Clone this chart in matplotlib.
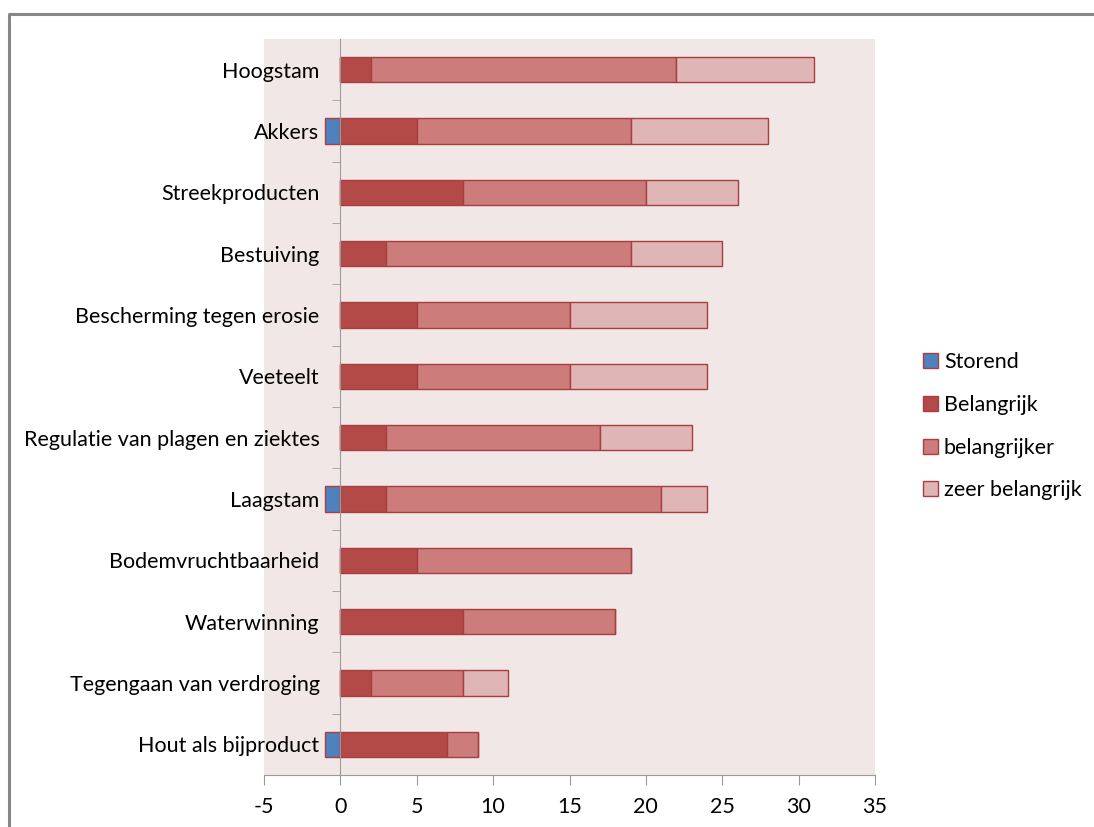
import matplotlib
matplotlib.use('Agg')
import matplotlib.pyplot as plt
import matplotlib.lines as mlines
import numpy as np

plt.rcParams['font.family'] = ['Lato', 'DejaVu Sans']

# categories listed top to bottom as in the chart
categories = ['Hoogstam', 'Akkers', 'Streekproducten', 'Bestuiving',
              'Bescherming tegen erosie', 'Veeteelt',
              'Regulatie van plagen en ziektes', 'Laagstam',
              'Bodemvruchtbaarheid', 'Waterwinning',
              'Tegengaan van verdroging', 'Hout als bijproduct']
storend       = [0, -1, 0, 0, 0, 0, 0, -1, 0, 0, 0, -1]
belangrijk    = [2, 5, 8, 3, 5, 5, 3, 3, 5, 8, 2, 7]
belangrijker  = [20, 14, 12, 16, 10, 10, 14, 18, 14, 10, 6, 2]
zeer          = [9, 9, 6, 6, 9, 9, 6, 3, 0, 0, 3, 0]

series_names = ['Storend', 'Belangrijk', 'belangrijker', 'zeer belangrijk']
COLORS = ['#4F81BD', '#B34A48', '#CB7C7B', '#DFB5B5']
EDGE = '#A83E3E'
BG = '#F2E7E7'
FS = 15.5

fig = plt.figure(figsize=(10.94, 8.27), dpi=100)
ax = fig.add_axes([264 / 1094, 1 - 775 / 827, 611 / 1094, 736 / 827])
ax.set_facecolor(BG)

n = len(categories)
ypos = np.arange(n)[::-1]
h = 0.41

b = np.array(belangrijk)
bk = np.array(belangrijker)
z = np.array(zeer)
s = np.array(storend)

handles = []
handles.append(ax.barh(ypos, s, height=h, color=COLORS[0], edgecolor=EDGE, linewidth=1, zorder=3))
handles.append(ax.barh(ypos, b, height=h, color=COLORS[1], edgecolor=EDGE, linewidth=1, zorder=3))
handles.append(ax.barh(ypos, bk, left=b, height=h, color=COLORS[2], edgecolor=EDGE, linewidth=1, zorder=3))
handles.append(ax.barh(ypos, z, left=b + bk, height=h, color=COLORS[3], edgecolor=EDGE, linewidth=1, zorder=3))

ax.set_xlim(-5, 35)
ax.set_ylim(-0.5, n - 0.5)
ax.set_xticks(np.arange(-5, 36, 5))
ax.set_xticklabels([str(v) for v in range(-5, 36, 5)])
ax.set_yticks(ypos)
ax.set_yticklabels(categories)
ax.set_yticks(np.arange(n - 1) + 0.5, minor=True)

for side in ['top', 'right']:
    ax.spines[side].set_visible(False)
ax.spines['left'].set_position(('data', 0))
ax.spines['left'].set_color('#9A9A9A')
ax.spines['left'].set_zorder(4)
ax.spines['bottom'].set_color('#9A9A9A')

ax.tick_params(axis='y', which='major', length=0, labelsize=FS, pad=15)
ax.tick_params(axis='y', which='minor', length=6, color='#9A9A9A', direction='out')
ax.tick_params(axis='x', which='major', length=7, color='#9A9A9A', labelsize=FS, pad=9)

fig.legend(handles, series_names, loc='upper left',
           bbox_to_anchor=(904 / 1094, 1 - 333 / 827), frameon=False,
           fontsize=FS, handlelength=0.7, handleheight=0.7,
           handletextpad=0.25, labelspacing=1.05)

# outer chart frame
fig.add_artist(mlines.Line2D([9 / 1094, 9 / 1094, 1.0], [0.0, 1 - 14 / 827, 1 - 14 / 827],
                             transform=fig.transFigure, color='#878787', linewidth=2.2))

fig.savefig('out.png', dpi=100)
